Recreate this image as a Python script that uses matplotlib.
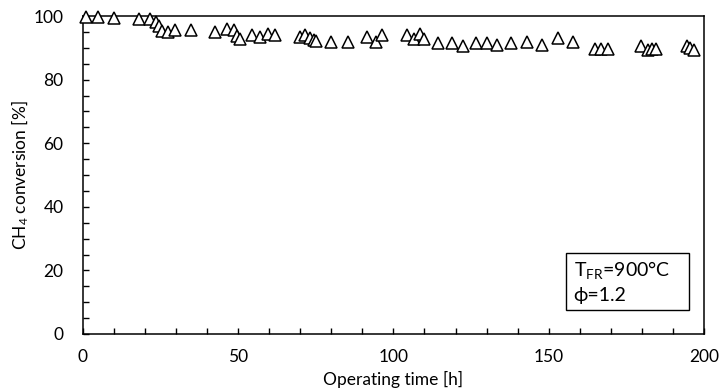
import matplotlib
matplotlib.use("Agg")
import matplotlib.pyplot as plt
from matplotlib.ticker import MultipleLocator
from matplotlib.patches import Rectangle

plt.rcParams['font.family'] = ['Lato', 'DejaVu Sans']
plt.rcParams['mathtext.fontset'] = 'custom'
plt.rcParams['mathtext.rm'] = 'Lato'
plt.rcParams['mathtext.it'] = 'Lato'

time_h = [1, 4.8, 10, 18, 21.6, 23.5, 24.5, 25.4, 27.4, 29.6, 34.8, 42.5, 46.4, 48.6,
          49.6, 50.5, 54.4, 57, 59.6, 62, 70, 71.5, 73, 74.4, 75, 80, 85.3, 91.5, 94.4,
          96.3, 104.3, 106.6, 108.5, 110, 114.3, 118.8, 122.4, 126.5, 130, 133.3, 138,
          143, 147.8, 153, 157.8, 165, 167, 169, 179.7, 182, 183.3, 184.5, 194.5,
          195.5, 196.8]
conversion = [99.7, 99.6, 99.4, 99.0, 99.0, 98.0, 97.0, 95.2, 95.0, 95.5, 95.5, 95.0,
              96.0, 95.5, 93.6, 92.7, 94.0, 93.5, 94.5, 94.0, 93.5, 94.0, 93.0, 92.5,
              92.2, 92.0, 92.0, 93.5, 92.0, 94.0, 94.0, 92.7, 94.5, 92.7, 91.5, 91.5,
              90.5, 91.5, 91.5, 91.0, 91.5, 92.0, 91.0, 93.0, 92.0, 89.5, 89.5, 89.5,
              90.5, 89.3, 89.5, 89.5, 90.5, 90.0, 89.3]

fig = plt.figure(figsize=(7.19, 3.92), dpi=100)
ax = fig.add_axes([0.1154, 0.148, 0.8636, 0.811])
ax.plot(time_h, conversion, linestyle='none', marker='^', markersize=8,
        markerfacecolor='white', markeredgecolor='black', markeredgewidth=1.1,
        clip_on=False, zorder=3)

ax.set_xlim(0, 200)
ax.set_ylim(0, 100)
ax.xaxis.set_major_locator(MultipleLocator(50))
ax.xaxis.set_minor_locator(MultipleLocator(10))
ax.yaxis.set_major_locator(MultipleLocator(20))
ax.yaxis.set_minor_locator(MultipleLocator(5))
ax.tick_params(which='both', direction='in', length=4, width=1, labelsize=12.5,
               colors='black')
ax.tick_params(axis='x', pad=11)
ax.tick_params(axis='y', pad=14)
for s in ax.spines.values():
    s.set_linewidth(1.1)

ax.set_xlabel('Operating time [h]', fontsize=12.5, labelpad=4)
ax.set_ylabel('CH$_4$ conversion [%]', fontsize=12.5, labelpad=2)

ax.add_patch(Rectangle((0.778, 0.075), 0.198, 0.18, transform=ax.transAxes,
                       facecolor='white', edgecolor='black', linewidth=1.0))
ax.text(0.79, 0.20, 'T$_{\\mathregular{FR}}$=900°C', transform=ax.transAxes,
        fontsize=14, va='center', ha='left')
ax.text(0.79, 0.12, 'ϕ=1.2', transform=ax.transAxes,
        fontsize=14, va='center', ha='left')

fig.savefig('out.png', dpi=100)
